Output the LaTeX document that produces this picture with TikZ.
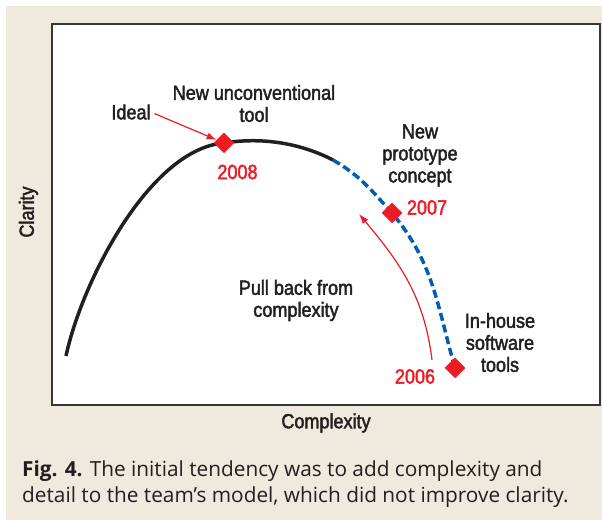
\documentclass[tikz,border=0pt]{standalone}
\usepackage{fontspec}
\setmainfont{Open Sans}
\newfontfamily\labelfont[FakeStretch=0.88,FakeBold=2]{Liberation Sans}
\usetikzlibrary{arrows.meta,calc,positioning}
\definecolor{paper}{RGB}{239,233,222}
\definecolor{markred}{RGB}{237,28,36}
\definecolor{trendblue}{RGB}{0,94,176}
\definecolor{ink}{RGB}{35,31,32}

\begin{document}
\begin{tikzpicture}[x=1pt,y=1pt,
  every node/.style={font=\labelfont\fontsize{20.5}{22}\selectfont,text=ink,inner sep=0pt},
  marker/.style={rectangle,rotate=45,fill=markred,minimum size=14.5pt,inner sep=0pt},
  year/.style={text=markred},
  note/.style={align=center},
  trend/.style={line width=3.5pt,ink},
  drift/.style={line width=3.5pt,trendblue,dash pattern=on 8pt off 4pt},
  pointer/.style={markred,line width=1.2pt,-{Latex[length=10pt,width=7pt]}}]

  \useasboundingbox (0,0) rectangle (602,521);
  \fill[paper] (6,1) rectangle (602,515);
  \draw[fill=white,draw=ink!90,line width=2pt] (52,116) rectangle (600,497);

  \coordinate (start) at (66,165);
  \coordinate (fade) at (333,361);
  \coordinate (p2008) at (224,378);
  \coordinate (p2007) at (392,308);
  \coordinate (p2006) at (455,153);

  \draw[trend] (start) .. controls (82,240) and (150,372) .. (p2008)
    .. controls (262,384) and (300,378) .. (fade);
  \draw[drift] (fade) to[out=-30,in=132] (p2007) to[out=-50,in=106] (p2006);

  \node (d2008) [marker] at (p2008) {};
  \node (d2007) [marker] at (p2007) {};
  \node (d2006) [marker] at (p2006) {};

  \node (y2008) [year] at (237.5,349) {2008};
  \node (y2007) [year] at (427,313.5) {2007};
  \node (y2006) [year] at (415,144.5) {2006};

  \node (ideal) at (131,409) {Ideal};
  \node (tool) [note] at (254,417.5) {New unconventional\\tool};
  \node (proto) [note] at (420,365.5) {New\\prototype\\concept};
  \node (pull) [note] at (296,220.5) {Pull back from\\complexity};
  \node (inhouse) [note] at (500,178.5) {In-house\\software\\tools};

  \draw[pointer,shorten <=4pt] (ideal.east) -- (d2008);
  \coordinate (pb0) at (432,161);
  \coordinate (pb1) at (359,307);
  \draw[pointer] (pb0) to[out=97,in=-50] (pb1);

  \node (xlabel) at (326,98) {Complexity};
  \node (ylabel) [rotate=90] at (28.5,309) {Clarity};

  \node (caption) [anchor=north west,align=left,text=ink,
    font=\rmfamily\fontsize{20.8}{26}\selectfont] at (22,60)
    {\textbf{Fig. 4.} The initial tendency was to add complexity and\\
     detail to the team’s model, which did not improve clarity.};
\end{tikzpicture}
\end{document}
